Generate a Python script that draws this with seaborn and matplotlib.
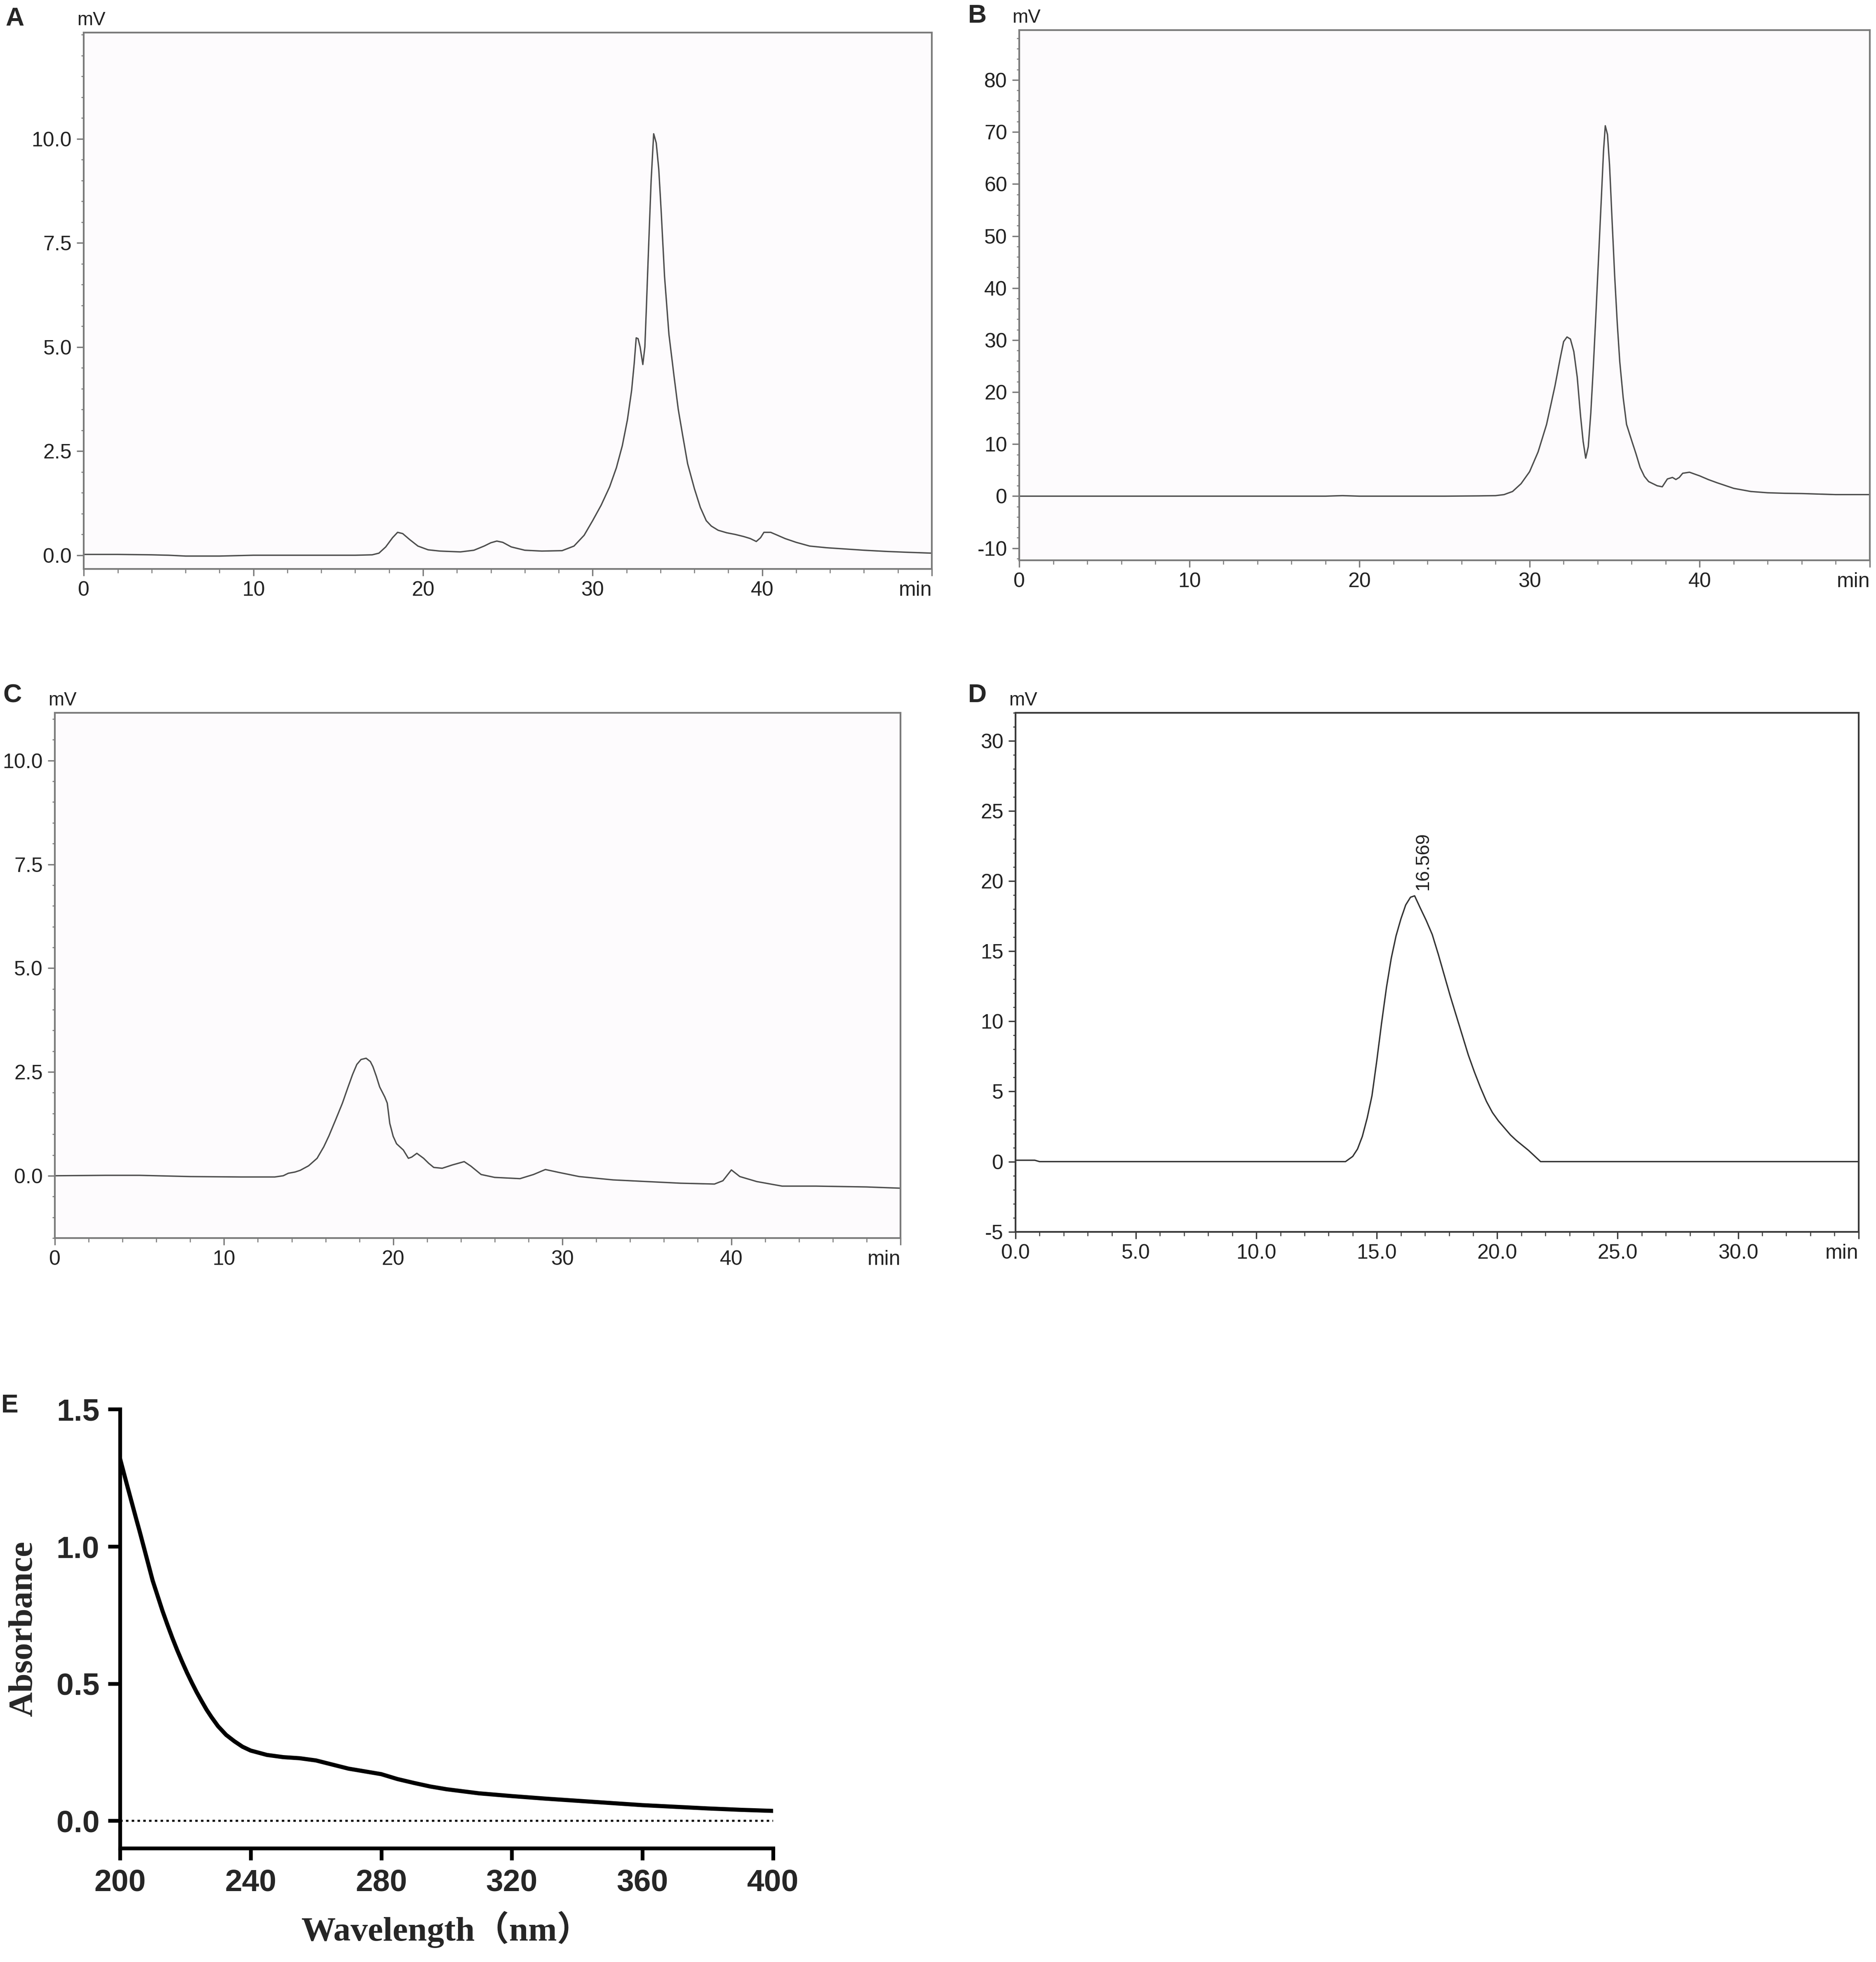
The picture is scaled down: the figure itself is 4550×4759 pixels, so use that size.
import numpy as np
import pandas as pd
import matplotlib
matplotlib.use("Agg")
import matplotlib.pyplot as plt
from matplotlib.ticker import MultipleLocator
import seaborn as sns

# ---- data ----
# A: chromatogram (min, mV)
a_time = [0, 2, 4, 5, 6, 8, 9, 10, 12, 14, 16, 17, 17.4, 17.8, 18.2, 18.5, 18.8, 19.2, 19.7,
          20.3, 21.0, 22.2, 23.0, 23.6, 24.0, 24.35, 24.7, 25.2, 26.0, 27.0, 28.2, 28.9,
          29.5, 30.0, 30.5, 31.0, 31.4, 31.75, 32.05, 32.3, 32.45, 32.57, 32.68, 32.8,
          32.96, 33.08, 33.17, 33.3, 33.45, 33.6, 33.75, 33.9, 34.05, 34.24, 34.5, 34.8,
          35.05, 35.3, 35.6, 36.0, 36.35, 36.7, 37.0, 37.4, 37.9, 38.4, 38.9, 39.3,
          39.65, 39.9, 40.1, 40.5, 40.9, 41.35, 42.0, 42.8, 43.8, 44.9, 46.0, 47.4, 48.6, 50.0]
a_mv = [0.02, 0.02, 0.01, 0.0, -0.02, -0.02, -0.01, 0.0, 0.0, 0.0, 0.0, 0.01, 0.05, 0.2, 0.42,
        0.55, 0.52, 0.38, 0.22, 0.13, 0.1, 0.08, 0.12, 0.22, 0.3, 0.34, 0.31, 0.2, 0.12,
        0.1, 0.11, 0.22, 0.48, 0.83, 1.2, 1.64, 2.1, 2.63, 3.25, 3.96, 4.6, 5.22, 5.2,
        5.0, 4.58, 5.0, 5.95, 7.4, 9.0, 10.12, 9.9, 9.27, 8.2, 6.7, 5.3, 4.3, 3.5, 2.9,
        2.2, 1.6, 1.15, 0.83, 0.7, 0.6, 0.54, 0.5, 0.45, 0.4, 0.33, 0.42, 0.55, 0.55,
        0.48, 0.4, 0.31, 0.22, 0.18, 0.15, 0.12, 0.09, 0.07, 0.05]

# B: chromatogram (min, mV)
b_time = [0, 5, 10, 15, 18, 19, 20, 25, 27, 28, 28.5, 29, 29.5, 30, 30.5, 31, 31.5, 31.8,
          32.0, 32.2, 32.4, 32.6, 32.8, 33.0, 33.15, 33.3, 33.45, 33.6, 33.75, 33.9,
          34.05, 34.2, 34.35, 34.45, 34.58, 34.7, 34.85, 35.0, 35.15, 35.3, 35.5, 35.7,
          36.0, 36.25, 36.5, 36.75, 37.0, 37.5, 37.8, 38.1, 38.4, 38.6, 38.8, 39.0, 39.4,
          40.0, 40.5, 41.0, 42.0, 43.0, 44.0, 45.0, 46.0, 48.0, 50.0]
b_mv = [0, 0, 0, 0, 0, 0.1, 0, 0, 0.05, 0.1, 0.3, 0.9, 2.4, 4.7, 8.5, 13.8, 21.3, 26.5,
        29.7, 30.6, 30.2, 27.8, 22.9, 15.3, 10.5, 7.3, 9.5, 16.0, 25.0, 35.0, 45.5, 56.0,
        66.5, 71.2, 69.5, 63.7, 53.0, 42.5, 33.5, 25.9, 19.0, 13.8, 10.7, 8.2, 5.5, 3.8,
        2.8, 2.0, 1.8, 3.3, 3.6, 3.2, 3.6, 4.4, 4.6, 3.9, 3.2, 2.6, 1.5, 0.9, 0.65, 0.55,
        0.5, 0.3, 0.3]

# C: chromatogram (min, mV)
c_time = [0, 3, 5, 8, 11, 13, 13.5, 13.8, 14.2, 14.5, 15.0, 15.5, 15.9, 16.2, 16.6, 17.0,
          17.3, 17.6, 17.85, 18.1, 18.4, 18.65, 18.8, 19.0, 19.2, 19.5, 19.65, 19.8, 20.0,
          20.2, 20.6, 20.9, 21.1, 21.4, 21.8, 22.1, 22.4, 22.9, 23.5, 24.2, 24.6, 25.2,
          26.0, 27.5, 28.3, 29.0, 29.8, 31.0, 33.0, 35.0, 37.0, 39.0, 39.5, 40.0, 40.5,
          41.5, 43.0, 45.0, 48.0, 50.0]
c_mv = [0.0, 0.01, 0.01, -0.02, -0.03, -0.03, 0.0, 0.06, 0.09, 0.13, 0.24, 0.42, 0.7,
        0.96, 1.35, 1.75, 2.1, 2.44, 2.68, 2.8, 2.83, 2.75, 2.63, 2.4, 2.14, 1.9, 1.75,
        1.26, 0.95, 0.77, 0.62, 0.42, 0.45, 0.54, 0.42, 0.3, 0.2, 0.18, 0.26, 0.34, 0.23,
        0.03, -0.04, -0.07, 0.03, 0.15, 0.08, -0.02, -0.1, -0.14, -0.18, -0.2, -0.12,
        0.14, -0.02, -0.14, -0.25, -0.25, -0.27, -0.3]

# D: chromatogram (min, mV)
d_time = [0.0, 0.8, 1.0, 5.0, 10.0, 13.7, 14.0, 14.2, 14.4, 14.6, 14.8, 15.0, 15.2, 15.4,
          15.6, 15.8, 16.0, 16.2, 16.4, 16.57, 16.8, 17.05, 17.3, 17.55, 17.8, 18.05,
          18.3, 18.55, 18.8, 19.05, 19.3, 19.55, 19.8, 20.05, 20.3, 20.55, 20.8, 21.05,
          21.3, 21.55, 21.8, 25.0, 30.0, 35.0]
d_mv = [0.1, 0.1, 0.0, 0.0, 0.0, 0.0, 0.37, 0.9, 1.8, 3.1, 4.7, 7.2, 9.9, 12.4, 14.5, 16.1,
        17.3, 18.3, 18.85, 18.95, 18.1, 17.2, 16.2, 14.8, 13.3, 11.8, 10.4, 9.0, 7.6, 6.4,
        5.3, 4.3, 3.5, 2.9, 2.4, 1.9, 1.5, 1.15, 0.8, 0.4, 0.0, 0.0, 0.0, 0.0]
d_peak_time = 16.569
d_peak_label = "16.569"

# E: UV spectrum (nm, absorbance)
e_nm = [200, 201, 202, 203, 204, 205, 206, 207, 208, 209, 210, 211.5, 213, 214.5, 216,
        217.5, 219, 220.5, 222, 223.5, 225, 226.5, 228, 230, 232.5, 235, 237.5, 240,
        245, 250, 255, 260, 265, 270, 275, 280, 285, 290, 295, 300, 310, 320, 330, 340,
        350, 360, 370, 380, 390, 400]
e_abs = [1.32, 1.275, 1.23, 1.186, 1.142, 1.098, 1.055, 1.01, 0.965, 0.92, 0.875, 0.82,
         0.765, 0.715, 0.667, 0.622, 0.58, 0.54, 0.503, 0.468, 0.436, 0.405, 0.378,
         0.345, 0.313, 0.29, 0.27, 0.256, 0.24, 0.232, 0.228, 0.22, 0.205, 0.19, 0.18,
         0.17, 0.152, 0.138, 0.125, 0.115, 0.1, 0.09, 0.081, 0.073, 0.065, 0.057, 0.051,
         0.045, 0.04, 0.036]

sns.set_style("ticks")
plt.rcParams["font.family"] = ["Liberation Sans", "DejaVu Sans"]

fig = plt.figure(figsize=(4550 / 300, 4759 / 300), dpi=300)

line_grey = "#4d4d4d"
bg = "#fdfbfd"


def chromatogram(rect, t, mv, ylim, xlim, ymaj, ymin, xmaj, xmin, yfmt, xfmt, ylab_max,
                 spine_col="#7a7a7a", line_col=line_grey):
    ax = fig.add_axes(rect)
    ax.set_facecolor(bg)
    sns.lineplot(x=t, y=mv, ax=ax, color=line_col, linewidth=0.8, sort=False)
    ax.set_xlim(*xlim)
    ax.set_ylim(*ylim)
    ax.yaxis.set_minor_locator(MultipleLocator(ymin))
    ax.xaxis.set_minor_locator(MultipleLocator(xmin))
    yt = [v for v in np.arange(-100, 100, ymaj) if ylim[0] - 1e-9 <= v <= ylab_max + 1e-9]
    ax.set_yticks(yt)
    ax.set_yticklabels([yfmt.format(v) for v in yt])
    xt = list(np.arange(xlim[0], xlim[1] + 1e-9, xmaj))
    ax.set_xticks(xt)
    labels = [xfmt.format(v) for v in xt]
    labels[-1] = "min"
    ax.set_xticklabels(labels)
    ax.get_xticklabels()[-1].set_horizontalalignment("right")
    for s in ax.spines.values():
        s.set_color(spine_col)
        s.set_linewidth(1.0)
    ax.tick_params(axis="both", which="major", direction="out", length=4, width=0.8,
                   color=spine_col, labelsize=12, labelcolor="#222222", pad=3)
    ax.tick_params(axis="both", which="minor", direction="out", length=2.5, width=0.6,
                   color=spine_col)
    ax.tick_params(axis="y", which="minor", length=1.5)
    ax.set_xlabel("")
    ax.set_ylabel("")
    ax.text(-0.008, 1.006, "mV", transform=ax.transAxes, ha="left", va="bottom",
            fontsize=11, color="#222222")
    return ax


# A
chromatogram([0.0447, 0.710, 0.452, 0.2734], a_time, a_mv, (-0.33, 12.55), (0, 50),
             2.5, 0.5, 10, 2, "{:.1f}", "{:.0f}", 10.0)
# B
chromatogram([0.5433, 0.7145, 0.4534, 0.2702], b_time, b_mv, (-12.3, 89.6), (0, 50),
             10, 2, 10, 2, "{:.0f}", "{:.0f}", 80)
# C
chromatogram([0.0293, 0.369, 0.4507, 0.2677], c_time, c_mv, (-1.5, 11.15), (0, 50),
             2.5, 0.5, 10, 2, "{:.1f}", "{:.0f}", 10.0)
# D
axd = chromatogram([0.5413, 0.3722, 0.4494, 0.2645], d_time, d_mv, (-5, 32.0), (0, 35),
                   5, 1, 5, 1, "{:.0f}", "{:.1f}", 30, spine_col="#3a3a3a",
                   line_col="#333333")
axd.set_facecolor("white")
peak_y = d_mv[d_time.index(16.57)]
axd.text(d_peak_time + 0.35, peak_y + 0.4, d_peak_label, rotation=90, ha="center",
         va="bottom", fontsize=11, color="#222222")

# E
axe = fig.add_axes([0.064, 0.058, 0.348, 0.2237])
sns.lineplot(x=e_nm, y=e_abs, ax=axe, color="black", linewidth=2.4)
axe.axhline(0, color="black", linestyle=(0, (1.2, 1.6)), linewidth=1.2)
axe.set_xlim(200, 400)
axe.set_ylim(-0.1, 1.5)
axe.set_xticks([200, 240, 280, 320, 360, 400])
axe.set_yticks([0.0, 0.5, 1.0, 1.5])
axe.set_yticklabels(["0.0", "0.5", "1.0", "1.5"])
sns.despine(ax=axe)
for s in ("left", "bottom"):
    axe.spines[s].set_linewidth(2.2)
    axe.spines[s].set_color("black")
axe.tick_params(axis="both", direction="out", length=7, width=2.2, color="black",
                labelsize=18, pad=5)
for lab in axe.get_xticklabels() + axe.get_yticklabels():
    lab.set_fontweight("bold")
serif = ["Liberation Serif", "Noto Sans CJK SC"]
axe.set_xlabel("Wavelength（nm）", fontsize=20, fontweight="bold", family=serif,
               labelpad=8)
axe.set_ylabel("Absorbance", fontsize=20, fontweight="bold", family=serif, labelpad=10)

# panel letters
for letter, x, y in [("A", 0.008, 0.9904), ("B", 0.521, 0.992), ("C", 0.0067, 0.6456),
                     ("D", 0.521, 0.6456), ("E", 0.0053, 0.2836)]:
    fig.text(x, y, letter, fontsize=15, fontweight="bold", ha="center", va="center")

fig.savefig("out.png", dpi=300, facecolor="white")
